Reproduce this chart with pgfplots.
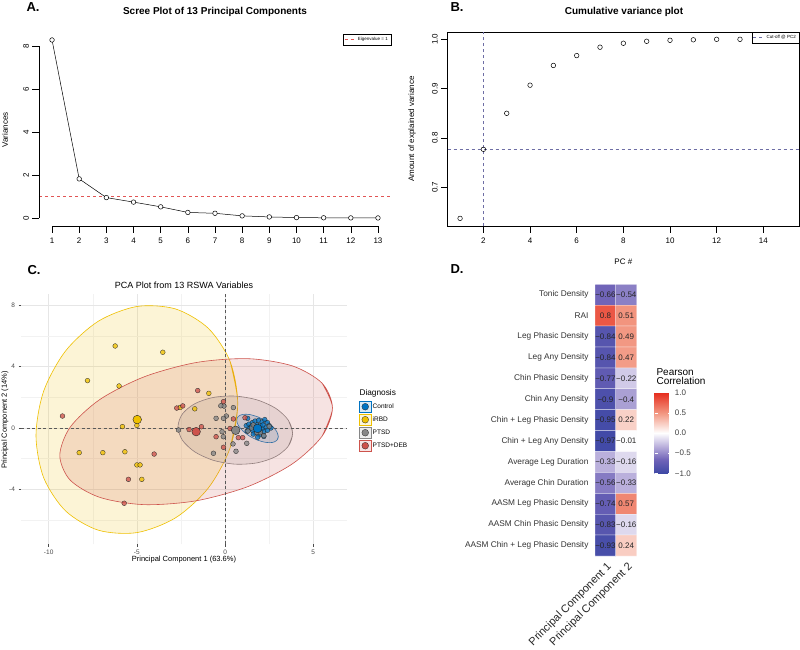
\documentclass[border=0pt]{standalone}
\usepackage{pgfplots}
\pgfplotsset{compat=1.18}
\usepackage{fontspec}
\setmainfont{Liberation Sans}
\definecolor{jblue}{RGB}{0,115,194}
\definecolor{jyellow}{RGB}{239,192,0}
\definecolor{jgray}{RGB}{134,134,134}
\definecolor{jred}{RGB}{205,83,76}
\definecolor{cutblue}{RGB}{110,110,165}
\definecolor{eigred}{RGB}{225,85,85}
\definecolor{gridc}{RGB}{230,230,230}
\definecolor{gridm}{RGB}{242,242,242}
\pgfplotsset{every axis/.append style={/pgf/number format/assume math mode=true},
  pt/.style={only marks, mark=*, mark size=2.4pt, mark options={fill=#1, fill opacity=0.78, draw=black!85, line width=0.3pt}},
  mpt/.style={only marks, mark=*, mark size=4.3pt, mark options={fill=#1, draw=black!85, line width=0.4pt}},
  ell/.style={smooth, draw=#1, fill=#1, fill opacity=0.16, line width=0.6pt}}
\newcommand{\fs}[1]{\fontsize{#1}{#1}\selectfont}
\begin{document}
\begin{tikzpicture}
\useasboundingbox (0,0) rectangle (800pt,-649pt);
\fill[white] (0,0) rectangle (800pt,-649pt);
% panel letters
\node[anchor=west, font=\fs{13}\bfseries] at (23pt,-7pt) {A.};
\node[anchor=west, font=\fs{13}\bfseries] at (447pt,-7pt) {B.};
\node[anchor=west, font=\fs{13}\bfseries] at (24pt,-270pt) {C.};
\node[anchor=west, font=\fs{13}\bfseries] at (447pt,-269pt) {D.};
% titles
\node[font=\fs{10}\bfseries] at (215pt,-11.5pt) {Scree Plot of 13 Principal Components};
\node[font=\fs{10}\bfseries] at (624pt,-11.5pt) {Cumulative variance plot};
\node[font=\fs{9}] at (184pt,-285pt) {PCA Plot from 13 RSWA Variables};
\node[anchor=west, font=\fs{8.3}] at (356pt,-393pt) {Diagnosis};
\node[anchor=west, font=\fs{10}, align=left] at (653pt,-377pt) {Pearson\\[-1pt]Correlation};

% ---------------- Panel A ----------------
\begin{axis}[
 scale only axis, width=352pt, height=192pt,
 at={(39pt,-226pt)}, anchor=south west,
 xmin=0.52, xmax=13.48, ymin=-0.372, ymax=8.558,
 axis x line*=bottom, axis y line*=left,
 axis line style={draw=none},
 xtick={1,2,...,13}, ytick={0,2,4,6,8},
 tick align=outside, major tick length=6.5pt,
 tick style={black, line width=0.45pt},
 ticklabel style={font=\fs{8}},
 xticklabel style={yshift=-2pt},
 yticklabel style={rotate=90, anchor=south},
 ylabel={Variances}, ylabel style={font=\fs{8}, at={(axis description cs:-0.0966,0.5)}, anchor=center},
 legend style={at={(1,1)}, anchor=north east, font=\fs{4.5}, draw=black, line width=0.4pt, inner sep=1pt, cells={anchor=west}},
 legend image code/.code={\draw[#1] (0pt,0pt) -- (11pt,0pt);},
 clip=false,
]
\addplot[eigred, dashed, line width=0.6pt] coordinates {(0.52,1) (13.48,1)};
\addlegendentry{Eigenvalue = 1}
\addplot[black, line width=0.5pt, mark=*, mark size=2.3pt, mark options={fill=white, draw=black, line width=0.5pt}] coordinates {
(1,8.28) (2,1.82) (3,0.95) (4,0.74) (5,0.52) (6,0.26) (7,0.22) (8,0.10) (9,0.05) (10,0.02) (11,0.01) (12,0.005) (13,0.003)};
\draw[black, line width=0.45pt] (axis cs:1,-0.372) -- (axis cs:13,-0.372);
\draw[black, line width=0.45pt] (axis cs:0.52,0) -- (axis cs:0.52,8);
\end{axis}

% ---------------- Panel B ----------------
\begin{axis}[
 scale only axis, width=351.3pt, height=194pt,
 at={(447.7pt,-226pt)}, anchor=south west,
 xmin=0.47, xmax=15.53, ymin=0.6215, ymax=1.0148,
 axis line style={line width=0.45pt},
 xtick={2,4,...,14}, ytick={0.7,0.8,0.9,1.0}, yticklabels={0.7,0.8,0.9,1.0},
 xtick pos=left, ytick pos=left,
 tick align=outside, major tick length=6.5pt,
 tick style={black, line width=0.45pt},
 ticklabel style={font=\fs{8}},
 xticklabel style={yshift=-2pt},
 yticklabel style={rotate=90, anchor=south},
 xlabel={PC \#}, xlabel style={font=\fs{8}, at={(axis description cs:0.5,-0.1856)}, anchor=center},
 ylabel={Amount of explained variance}, ylabel style={font=\fs{8}, at={(axis description cs:-0.1016,0.5)}, anchor=center},
 legend style={at={(1,1)}, anchor=north east, font=\fs{4.5}, draw=black, line width=0.4pt, inner sep=1pt, cells={anchor=west}},
 legend image code/.code={\draw[#1] (0pt,0pt) -- (11pt,0pt);},
]
\addplot[cutblue, dashed, line width=0.6pt] coordinates {(2,0.6215) (2,1.0148)};
\addlegendentry{Cut-off @ PC2}
\addplot[cutblue, dashed, line width=0.6pt] coordinates {(0.47,0.777) (15.53,0.777)};
\addplot[only marks, mark=o, mark size=2.3pt, black, mark options={line width=0.5pt}] coordinates {
(1,0.637) (2,0.777) (3,0.850) (4,0.907) (5,0.947) (6,0.967) (7,0.984) (8,0.992) (9,0.996) (10,0.998) (11,0.999) (12,1.000) (13,1.000)};
\end{axis}

% ---------------- Panel C ----------------
\begin{axis}[
 scale only axis, width=326.3pt, height=250pt,
 at={(21pt,-544pt)}, anchor=south west,
 xmin=-11.57, xmax=6.93, ymin=-7.57, ymax=8.74,
 axis line style={draw=none},
 xtick={-10,-5,0,5}, ytick={-4,0,4,8},
 minor xtick={-7.5,-2.5,2.5}, minor ytick={-6,-2,2,6},
 grid=both, major grid style={gridc, line width=0.55pt}, minor grid style={gridm, line width=0.35pt},
 xtick pos=left, ytick pos=left, tick align=outside,
 major tick length=2.5pt, minor tick length=0pt,
 tick style={black!70, line width=0.4pt},
 ticklabel style={font=\fs{6.5}, text=black!70},
 xlabel={Principal Component 1 (63.6\%)}, xlabel style={font=\fs{7.5}, at={(axis description cs:0.4995,-0.064)}, anchor=center},
 ylabel={Principal Component 2 (14\%)}, ylabel style={font=\fs{7.5}, at={(axis description cs:-0.049,0.496)}, anchor=center},
 legend style={at={(axis description cs:1.036,0.574)}, anchor=north west, draw=none, fill=none, inner sep=0pt, row sep=1pt, font=\fs{6.5}, nodes={inner sep=1.5pt}},
 legend cell align=left,
 clip=false,
]
\addlegendimage{legend image code/.code={\draw[draw=jblue, fill=jblue!15, line width=0.6pt] (0pt,-5.7pt) rectangle (11.4pt,5.7pt); \draw[fill=jblue, draw=black!85, line width=0.3pt] (5.7pt,0pt) circle (3.4pt);}}
\addlegendentry{Control}
\addlegendimage{legend image code/.code={\draw[draw=jyellow, fill=jyellow!15, line width=0.6pt] (0pt,-5.7pt) rectangle (11.4pt,5.7pt); \draw[fill=jyellow, draw=black!85, line width=0.3pt] (5.7pt,0pt) circle (3.4pt);}}
\addlegendentry{iRBD}
\addlegendimage{legend image code/.code={\draw[draw=jgray, fill=jgray!15, line width=0.6pt] (0pt,-5.7pt) rectangle (11.4pt,5.7pt); \draw[fill=jgray, draw=black!85, line width=0.3pt] (5.7pt,0pt) circle (3.4pt);}}
\addlegendentry{PTSD}
\addlegendimage{legend image code/.code={\draw[draw=jred, fill=jred!15, line width=0.6pt] (0pt,-5.7pt) rectangle (11.4pt,5.7pt); \draw[fill=jred, draw=black!85, line width=0.3pt] (5.7pt,0pt) circle (3.4pt);}}
\addlegendentry{PTSD+DEB}
% ellipses (closed by wrapping round past the start point)
\addplot[ell=jblue] coordinates {(2.930,-0.815) (3.02,-0.564) (2.930,-0.231) (2.674,0.131) (2.292,0.470) (1.84,0.732) (1.388,0.878) (1.006,0.887) (0.750,0.755) (0.66,0.504) (0.750,0.171) (1.006,-0.191) (1.388,-0.530) (1.84,-0.792) (2.292,-0.938) (2.674,-0.947) (2.930,-0.815) (3.02,-0.564) (2.930,-0.231)};
\addplot[ell=jyellow] coordinates {(0.285,-1.303) (0.72,1.60) (0.285,4.343) (-0.955,6.508) (-2.811,7.767) (-5,7.926) (-7.189,6.963) (-9.045,5.024) (-10.285,2.403) (-10.72,-0.50) (-10.285,-3.243) (-9.045,-5.408) (-7.189,-6.667) (-5,-6.826) (-2.811,-5.863) (-0.955,-3.924) (0.285,-1.303) (0.72,1.60) (0.285,4.343)};
\addplot[ell=jgray] coordinates {(3.583,-1.189) (3.83,-0.355) (3.583,0.511) (2.878,1.278) (1.824,1.829) (0.58,2.08) (-0.664,1.993) (-1.718,1.582) (-2.423,0.909) (-2.67,0.075) (-2.423,-0.791) (-1.718,-1.558) (-0.664,-2.109) (0.58,-2.36) (1.824,-2.273) (2.878,-1.862) (3.583,-1.189) (3.83,-0.355) (3.583,0.511)};
\addplot[ell=jred] coordinates {(5.502,-0.532) (6.09,1.312) (5.502,2.920) (3.826,4.046) (1.318,4.521) (-1.64,4.27) (-4.598,3.333) (-7.106,1.852) (-8.782,0.052) (-9.37,-1.792) (-8.782,-3.400) (-7.106,-4.526) (-4.598,-5.001) (-1.64,-4.75) (1.318,-3.813) (3.826,-2.332) (5.502,-0.532) (6.09,1.312) (5.502,2.920)};
% reference lines
\addplot[black!65, line width=0.9pt, dash pattern=on 3pt off 2.5pt] coordinates {(-11.57,0) (6.93,0)};
\addplot[black!65, line width=0.9pt, dash pattern=on 3pt off 2.5pt] coordinates {(0,-7.57) (0,8.74)};
% points
\addplot[pt=jblue] coordinates {(1.2,0.15) (1.35,0.25) (1.45,0.05) (1.55,0.35) (1.7,0.45) (1.9,0.5) (2.1,0.4) (2.25,0.55) (2.4,0.35) (2.5,0.15) (2.3,0.05) (2.1,-0.05) (2.0,-0.2) (2.2,-0.25) (1.7,-0.3) (1.55,-0.15) (1.35,-0.05) (1.5,0.1) (1.95,-0.45) (1.85,-0.6) (2.4,-0.15) (1.6,-0.4) (2.6,0.0) (1.8,0.2) (2.0,0.15) (1.65,0.05) (2.15,0.2) (1.25,-0.2) (1.28,0.63) (2.2,-0.55)};
\addplot[pt=jyellow] coordinates {(-6.23,5.35) (-3.53,4.94) (-7.80,3.09) (-6.01,2.74) (-0.92,2.26) (-1.72,1.25) (-2.55,1.34) (-5.0,0.17) (-5.82,0.09) (-8.27,-1.61) (-6.93,-1.61) (-5.68,-1.55) (-5.0,-2.41) (-4.82,-2.41) (-4.72,-3.35)};
\addplot[pt=jgray] coordinates {(-2.64,-0.13) (0.47,1.33) (0.07,0.78) (-0.51,0.63) (-0.17,-0.24) (0.45,-1.04) (0.62,-1.52) (-0.66,-1.65) (1.23,-1.0) (-0.06,1.43) (-0.24,1.45) (-0.09,0.63) (-0.10,-0.57) (1.5,0.0) (2.0,-0.3) (1.8,-0.3) (2.5,0.1) (1.3,-0.2) (2.2,-0.5) (1.6,0.2)};
\addplot[pt=jred] coordinates {(-9.22,0.78) (-1.55,2.44) (-2.74,1.30) (-2.40,1.44) (-0.09,1.72) (-1.34,0.08) (-2.04,-0.10) (-0.51,-0.57) (-0.09,-1.26) (-4.02,-1.70) (-5.48,-3.35) (-5.72,-4.91) (1.13,0.67) (0.47,0.59) (0.28,-0.03) (0.75,-0.63) (1.0,-0.63)};
% group means
\addplot[mpt=jblue] coordinates {(1.84,-0.03)};
\addplot[mpt=jyellow] coordinates {(-4.98,0.55)};
\addplot[mpt=jgray] coordinates {(0.6,-0.15)};
\addplot[mpt=jred] coordinates {(-1.64,-0.24)};
\end{axis}

% ---------------- Panel D ----------------
\begin{axis}[
 scale only axis, width=41.7pt, height=271.7pt,
 at={(595pt,-556pt)}, anchor=south west,
 xmin=-0.5, xmax=1.5, ymin=-0.5, ymax=12.5,
 y dir=reverse,
 axis line style={draw=none},
 xtick={0,1}, ytick={0,1,...,12},
 xticklabels={Principal Component 1, Principal Component 2},
 yticklabels={Tonic Density, RAI, Leg Phasic Density, Leg Any Density, Chin Phasic Density, Chin Any Density, Chin + Leg Phasic Density, Chin + Leg Any Density, Average Leg Duration, Average Chin Duration, AASM Leg Phasic Density, AASM Chin Phasic Density, AASM Chin + Leg Phasic Density},
 major tick length=0pt,
 yticklabel style={font=\fs{8.3}, text=black!80, xshift=-3pt},
 xticklabel style={font=\fs{11}, text=black!85, rotate=45, anchor=north east, xshift=0pt, yshift=-1pt},
 colormap={pear}{rgb255(0pt)=(62,72,165) rgb255(34pt)=(112,100,184) rgb255(67pt)=(186,176,220) rgb255(100pt)=(255,255,255) rgb255(150pt)=(242,150,128) rgb255(200pt)=(230,45,30)},
 point meta min=-1, point meta max=1,
 colorbar,
 colorbar style={
   at={(parent axis.north east)}, anchor=north west,
   xshift=9.5pt, yshift=-108.4pt,
   scale only axis, width=16.7pt, height=80.6pt,
   y dir=normal,
   ytick={-1,-0.5,0,0.5,1},
   yticklabels={−1.0,−0.5,0.0,0.5,1.0},
   yticklabel style={font=\fs{8}, text=black!75},
   axis line style={draw=none},
   major tick length=3.3pt, tick align=inside,
   tick style={white, line width=0.5pt},
 },
]
\addplot[matrix plot, shader=faceted, faceted color=white, line width=0.25pt, mesh/cols=2, point meta=explicit] table[meta=c] {
x y c
0 0 -0.66
1 0 -0.54
0 1 0.80
1 1 0.51
0 2 -0.84
1 2 0.49
0 3 -0.84
1 3 0.47
0 4 -0.77
1 4 -0.22
0 5 -0.90
1 5 -0.40
0 6 -0.95
1 6 0.22
0 7 -0.97
1 7 -0.01
0 8 -0.33
1 8 -0.16
0 9 -0.56
1 9 -0.33
0 10 -0.74
1 10 0.57
0 11 -0.83
1 11 -0.16
0 12 -0.93
1 12 0.24
};
\addplot[draw=none, nodes near coords, point meta=explicit symbolic,
  nodes near coords align={center},
  every node near coord/.append style={font=\fs{8}, text=black!85, inner sep=0pt}] coordinates {
(0,0) [−0.66] (1,0) [−0.54]
(0,1) [0.8] (1,1) [0.51]
(0,2) [−0.84] (1,2) [0.49]
(0,3) [−0.84] (1,3) [0.47]
(0,4) [−0.77] (1,4) [−0.22]
(0,5) [−0.9] (1,5) [−0.4]
(0,6) [−0.95] (1,6) [0.22]
(0,7) [−0.97] (1,7) [−0.01]
(0,8) [−0.33] (1,8) [−0.16]
(0,9) [−0.56] (1,9) [−0.33]
(0,10) [−0.74] (1,10) [0.57]
(0,11) [−0.83] (1,11) [−0.16]
(0,12) [−0.93] (1,12) [0.24]
};
\end{axis}
\end{tikzpicture}
\end{document}
